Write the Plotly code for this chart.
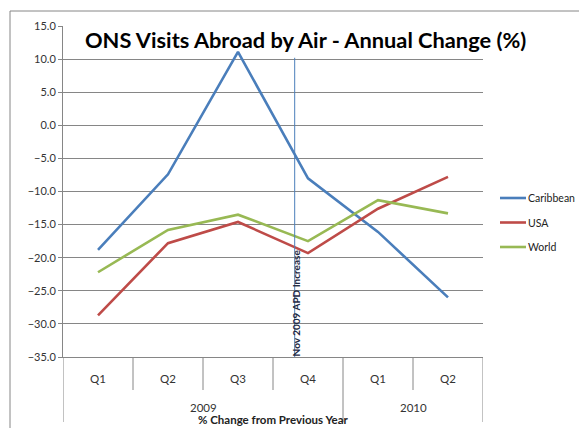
import plotly.graph_objects as go

# Quarterly categories, grouped by year
quarters = ["Q1", "Q2", "Q3", "Q4", "Q1", "Q2"]
years = ["2009", "2010"]
year_spans = [(0, 3), (4, 5)]  # first/last category index of each year

# Annual change (%)
caribbean = [-18.8, -7.4, 11.1, -8.0, -16.1, -26.0]
usa = [-28.7, -17.8, -14.6, -19.3, -12.6, -7.8]
world = [-22.2, -15.8, -13.5, -17.5, -11.3, -13.3]

# Marker for the air passenger duty rise (between Q3 and Q4 2009)
apd_x = 2.81
apd_top = 10.2
apd_label = "Nov 2009 APD Increase"

FONT = "Lato, Calibri, Arial, sans-serif"
grid_color = "#868686"

# page sits 8px in from the window edge (default body margin)
W, H = 579, 420
left, top, right, bottom = 55, 18, 475, 349
plot_w = float(right - left)
plot_h = float(bottom - top)


def px(xp):
    # window x pixel -> paper x
    return (xp - 8 - left) / plot_w


def py(yp):
    # window y pixel -> paper y
    return (bottom - (yp - 8)) / plot_h


x_idx = list(range(len(quarters)))

fig = go.Figure()

series = [
    ("Caribbean", caribbean, "#4A7EBB"),
    ("USA", usa, "#BE4B48"),
    ("World", world, "#98B954"),
]
for k, (name, vals, col) in enumerate(series):
    fig.add_trace(go.Scatter(
        x=x_idx, y=vals, mode="lines", name=name,
        line=dict(color=col, width=2.6), showlegend=False,
    ))
    # legend entry drawn beside the plot
    ly = py(198 + 24.5 * k)
    fig.add_shape(type="line", xref="paper", yref="paper",
                  x0=px(500), x1=px(526), y0=ly, y1=ly,
                  line=dict(color=col, width=2.6))
    fig.add_annotation(x=px(526), y=ly, xref="paper", yref="paper",
                       xanchor="left", yanchor="middle", text=name, showarrow=False,
                       font=dict(size=10.5, color="#222222", family=FONT))

# Vertical marker line and its label
fig.add_shape(type="line", xref="x", yref="y", x0=apd_x, x1=apd_x,
              y0=-35, y1=apd_top, line=dict(color="#4A7EBB", width=1))
fig.add_annotation(x=apd_x, y=-26.8, xref="x", yref="y", text="<b>" + apd_label + "</b>",
                   textangle=-90, showarrow=False, xshift=1,
                   xanchor="center", yanchor="middle",
                   font=dict(size=10, color="#1F2A44", family=FONT))

# Category axis: quarter labels and year labels with divider lines
for i, q in enumerate(quarters):
    fig.add_annotation(x=i, y=py(378), xref="x", yref="paper", text=q,
                       xanchor="center", yanchor="middle", showarrow=False,
                       font=dict(size=11.5, color="#333333", family=FONT))
for yr, (a, b) in zip(years, year_spans):
    fig.add_annotation(x=(a + b) / 2, y=py(407), xref="x", yref="paper", text=yr,
                       xanchor="center", yanchor="middle", showarrow=False,
                       font=dict(size=11.5, color="#333333", family=FONT))

year_edges = [-0.5] + [b + 0.5 for _, b in year_spans]
for i in range(len(quarters) + 1):
    xv = i - 0.5
    end = 422 if xv in year_edges else 390
    fig.add_shape(type="line", xref="x", yref="paper", x0=xv, x1=xv,
                  y0=0, y1=py(end), line=dict(color=grid_color, width=1))

fig.add_annotation(x=0.5, y=py(428), xref="paper", yref="paper",
                   xanchor="center", yanchor="bottom",
                   text="<b>% Change from Previous Year</b>", showarrow=False,
                   font=dict(size=11.5, color="#222222", family=FONT))

# Title
fig.add_annotation(x=px(305), y=py(40), xref="paper", yref="paper",
                   xanchor="center", yanchor="middle",
                   text="<b>ONS Visits Abroad by Air - Annual Change (%)</b>", showarrow=False,
                   font=dict(size=21.8, color="#000000", family=FONT))

# Outer chart border (runs off the right and bottom of the window)
fig.add_shape(type="rect", xref="paper", yref="paper",
              x0=px(10), x1=px(600), y0=py(440), y1=py(11),
              line=dict(color=grid_color, width=1))

fig.update_layout(
    width=W, height=H,
    margin=dict(l=left, r=W - right, t=top, b=H - bottom, autoexpand=False),
    paper_bgcolor="white", plot_bgcolor="white",
    font=dict(family=FONT, color="#333333"),
    showlegend=False,
    xaxis=dict(range=[-0.5, 5.5], showticklabels=False, showgrid=False, zeroline=False,
               showline=True, linecolor=grid_color, linewidth=1, ticks="", automargin=False),
    yaxis=dict(range=[-35, 15], dtick=5, tick0=0, tickformat=".1f", showgrid=True,
               gridcolor=grid_color, gridwidth=1, zeroline=False,
               showline=True, linecolor=grid_color, linewidth=1,
               ticks="outside", ticklen=4, tickcolor=grid_color, automargin=False,
               tickfont=dict(size=11, color="#333333", family=FONT)),
)

fig.write_html("out.html")
